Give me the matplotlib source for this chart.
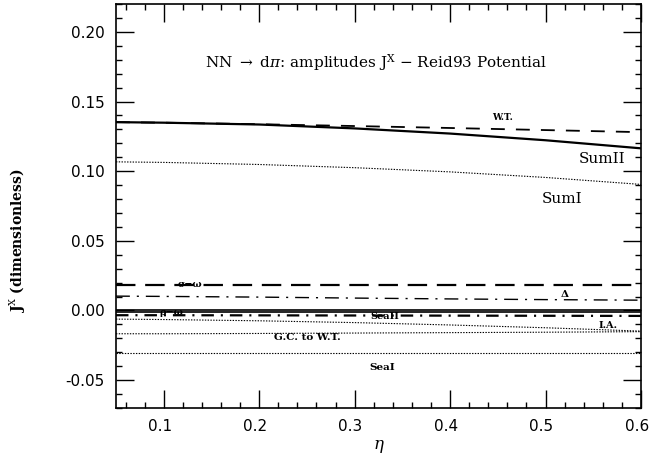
import matplotlib
matplotlib.use("Agg")
import matplotlib.pyplot as plt
import matplotlib.transforms as mtransforms
from matplotlib.ticker import MultipleLocator, FormatStrFormatter

plt.rcParams["lines.scale_dashes"] = False
plt.rcParams["mathtext.fontset"] = "dejavuserif"

# eta grid and amplitudes
eta = [0.05, 0.1, 0.2, 0.3, 0.4, 0.5, 0.6]
sum_ii = [0.1352, 0.1348, 0.1335, 0.1307, 0.1270, 0.1222, 0.1164]
wt = [0.1352, 0.1348, 0.1337, 0.1324, 0.1310, 0.1295, 0.1280]
sum_i = [0.1067, 0.1063, 0.1048, 0.1025, 0.0995, 0.0955, 0.0905]
sigma_omega = [0.0186, 0.0186, 0.0186, 0.0186, 0.0186, 0.0186, 0.0186]
delta = [0.0103, 0.0101, 0.0096, 0.0089, 0.0083, 0.0078, 0.0074]
zero_shift = [-0.0014, -0.0014, -0.0014, -0.0014, -0.0014, -0.0014, -0.0014]
rho_omega = [-0.0034, -0.0034, -0.0035, -0.0036, -0.0037, -0.0038, -0.0039]
ia = [-0.0062, -0.0065, -0.0074, -0.0087, -0.0104, -0.0124, -0.0148]
gc_wt = [-0.0167, -0.0167, -0.0165, -0.0162, -0.0159, -0.0156, -0.0152]
sea_i = [-0.0302, -0.0302, -0.0302, -0.0302, -0.0302, -0.0302, -0.0302]

serif = ["DejaVu Serif"]

fig = plt.figure(figsize=(6.49, 4.55), dpi=100)
ax = fig.add_axes([0.1787, 0.1033, 0.8089, 0.8879])

# curves
ax.plot(eta, sum_ii, color="black", lw=1.6)
ax.plot(eta, wt, color="black", lw=1.3, linestyle=(0, (10, 8)))
ax.plot(eta, sum_i, color="black", lw=0.8, linestyle=(0, (1, 1)))
ax.plot(eta, sigma_omega, color="black", lw=1.6, linestyle=(0, (14, 7)))
ax.plot(eta, delta, color="black", lw=1.0, linestyle=(0, (10, 5, 1.5, 5)))
ax.axhline(0.0, color="black", lw=1.2)
ax.plot(eta, zero_shift, color="black", lw=1.2)
ax.plot(eta, rho_omega, color="black", lw=1.6, linestyle=(0, (9, 5, 1.5, 5)))
ax.plot(eta, ia, color="black", lw=0.8, linestyle=(0, (1, 1)))
ax.plot(eta, gc_wt, color="black", lw=0.8, linestyle=(0, (1, 1)))
ax.plot(eta, sea_i, color="black", lw=0.8, linestyle=(0, (1, 1)))

# curve labels
ax.text(0.323, 0.178, r"NN $\rightarrow$ d$\pi$: amplitudes J$^{\rm X}$ $-$ Reid93 Potential",
        family=serif, fontsize=11, ha="center", va="center")
ax.text(0.455, 0.1385, "W.T.", family=serif, fontsize=6.5, fontweight="bold",
        ha="center", va="center")
ax.text(0.559, 0.109, "SumII", family=serif, fontsize=11, ha="center", va="center")
ax.text(0.517, 0.080, "SumI", family=serif, fontsize=11, ha="center", va="center")
ax.text(0.128, 0.019, "σ−ω", family=serif, fontsize=7, fontweight="bold",
        ha="center", va="center")
ax.text(0.52, 0.0118, "Δ", family=serif, fontsize=7.5, fontweight="bold",
        ha="center", va="center")
ax.text(0.108, -0.0012, "ρ−ω", family=serif, fontsize=7, fontweight="bold",
        ha="center", va="center")
ax.text(0.332, -0.0044, "SeaII", family=serif, fontsize=7, fontweight="bold",
        ha="center", va="center")
ax.text(0.565, -0.011, "I.A.", family=serif, fontsize=7, fontweight="bold",
        ha="center", va="center")
ax.text(0.251, -0.0197, "G.C. to W.T.", family=serif, fontsize=7.5, fontweight="bold",
        ha="center", va="center")
ax.text(0.329, -0.0406, "SeaI", family=serif, fontsize=7.5, fontweight="bold",
        ha="center", va="center")

# axes
ax.set_xlim(0.05, 0.6)
ax.set_ylim(-0.07, 0.22)
ax.xaxis.set_major_locator(MultipleLocator(0.1))
ax.xaxis.set_minor_locator(MultipleLocator(0.02))
ax.yaxis.set_major_locator(MultipleLocator(0.05))
ax.yaxis.set_minor_locator(MultipleLocator(0.01))
ax.xaxis.set_major_formatter(FormatStrFormatter("%.1f"))
ax.yaxis.set_major_formatter(FormatStrFormatter("%.2f"))
ax.tick_params(which="both", direction="in", top=True, right=True, width=1.0)
ax.tick_params(which="major", length=13, labelsize=11, pad=8)
ax.tick_params(which="minor", length=4.5)
for spine in ax.spines.values():
    spine.set_linewidth(1.2)

# nudge x tick labels a little left so 0.6 stays inside the figure
shift = mtransforms.ScaledTranslation(-4 / 100, 0, fig.dpi_scale_trans)
for label in ax.get_xticklabels():
    label.set_transform(label.get_transform() + shift)

ax.set_xlabel(r"$\eta$", fontsize=12, labelpad=2)
ax.set_ylabel(r"J$^{\rm X}$ (dimensionless)", family=serif, fontsize=10,
              fontweight="bold")
ax.yaxis.set_label_coords(-0.168, 0.413)

fig.savefig("out.png", dpi=100)
